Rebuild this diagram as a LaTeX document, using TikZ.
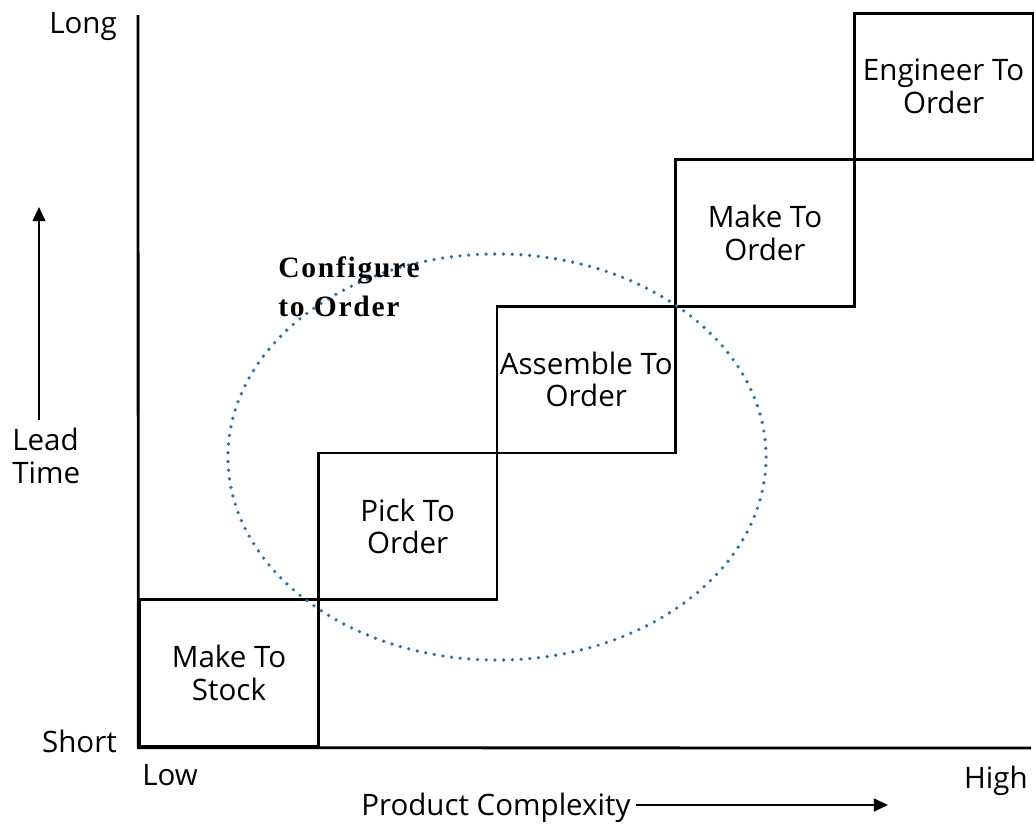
\documentclass[tikz,border=0pt]{standalone}
\usepackage{fontspec}
\setmainfont{Open Sans}
\newfontfamily\ctofont[LetterSpace=6]{Liberation Serif}
\usepackage{tikz}
\usetikzlibrary{arrows.meta}
\definecolor{ctoblue}{RGB}{46,110,160}
\tikzstyle{stage} = [
  draw,
  rectangle,
  line width=2pt,
  minimum width=4.465cm,
  minimum height=3.665cm,
  inner sep=0pt,
  align=center,
]
\tikzstyle{axistext} = [
  inner sep=0pt,
]
\tikzstyle{axis} = [
  line width=2pt,
]
\tikzstyle{pointer} = [
  line width=1.5pt,
  -{Triangle[length=10pt,width=9pt]},
]
\tikzstyle{region} = [
  draw=ctoblue,
  line width=2.6pt,
  line cap=round,
  dash pattern=on 0pt off 6.2pt,
]

\begin{document}
\begin{tikzpicture}[
    x=0.025cm,
    y=-0.025cm,
    font=\fontsize{21pt}{23pt}\selectfont,
  ]
  \useasboundingbox (0,0) rectangle (1036,823);
  \coordinate (origin) at (138,748);
  \coordinate (ytop) at (138,15);
  \coordinate (xend) at (1031,748);
  \matrix(stairs)[
    ampersand replacement=\&,
    row sep=-2pt,
    column sep=-2pt,
    inner sep=0pt,
    anchor=south west,
  ] at (origin) {
    \& \& \& \&
    \node[stage]
    (eto){Engineer To\\Order};
    \\
    \& \& \&
    \node[stage]
    (mto){Make To\\Order};
    \&
    \\
    \& \&
    \node[stage]
    (ato){Assemble To\\Order};
    \& \&
    \\
    \&
    \node[stage]
    (pto){Pick To\\Order};
    \& \& \&
    \\
    \node[stage]
    (mts){Make To\\Stock};
    \& \& \& \&
    \\
  };
  \draw[axis] (ytop) -- (mts.south west) -- (xend);
  % configure to order region
  \draw[region] (497,457) ellipse [x radius=6.725cm, y radius=5.075cm];
  \node[
    axistext,
    anchor=north west,
    align=left,
    font=\ctofont\bfseries\fontsize{21pt}{28pt}\selectfont,
  ](cto) at (278,256){Configure\\to Order};
  \node[axistext, anchor=base east] (long) at (117,33) {Long};
  \node[axistext, anchor=base east] (short) at (117,752) {Short};
  \node[axistext, anchor=base west] (low) at (142,785) {Low};
  \node[axistext, anchor=base east] (high) at (1028,788) {High};
  \node[axistext, anchor=base west] (cplx) at (361,815) {Product Complexity};
  \node[axistext, anchor=west, align=left] (lead) at (12,456) {Lead\\Time};
  \coordinate (leadfrom) at (39,420);
  \coordinate (leadto) at (39,207);
  \coordinate (cplxfrom) at (636,805);
  \coordinate (cplxto) at (888,805);
  \draw[pointer] (leadfrom) -- (leadto);
  \draw[pointer] (cplxfrom) -- (cplxto);
\end{tikzpicture}
\end{document}
